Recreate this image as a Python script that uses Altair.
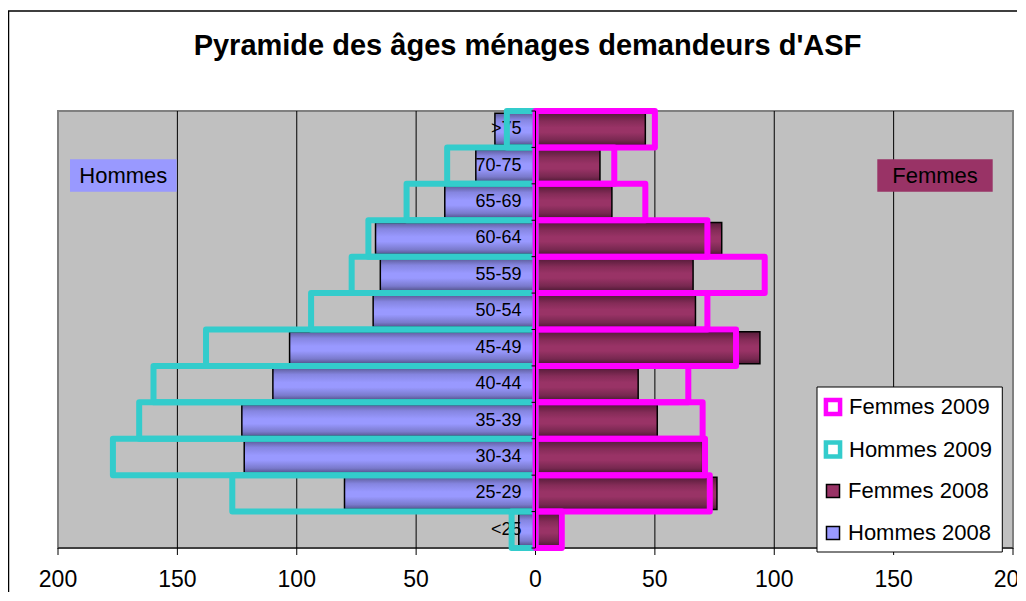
import altair as alt
import pandas as pd

# ---- data ----
ages = [">75", "70-75", "65-69", "60-64", "55-59", "50-54",
        "45-49", "40-44", "35-39", "30-34", "25-29", "<25"]
hommes_2008 = [17, 25, 38, 67, 65, 68, 103, 110, 123, 122, 80, 7]
femmes_2008 = [46, 27, 32, 78, 66, 67, 94, 43, 51, 70, 76, 10]
hommes_2009 = [12, 37, 54, 70, 77, 94, 138, 160, 166, 177, 127, 10]
femmes_2009 = [50, 33, 46, 72, 96, 72, 84, 64, 70, 71, 73, 11]

names_2009 = ["Femmes 2009", "Hommes 2009"]
colors_2009 = ["#FF00FF", "#33CCCC"]
names_2008 = ["Femmes 2008", "Hommes 2008"]
colors_2008 = ["#993366", "#9999FF"]
x_ticks = [-200, -150, -100, -50, 0, 50, 100, 150, 200]
grid_ticks = [-150, -100, -50, 50, 100, 150]
title_text = "Pyramide des âges ménages demandeurs d'ASF"
side_labels = ["Hommes", "Femmes"]

FONT = "Liberation Sans"
H = 437  # plot height in px

rows = []
for i, a in enumerate(ages):
    rows.append({"age": a, "series": "Hommes 2008", "value": -hommes_2008[i]})
    rows.append({"age": a, "series": "Femmes 2008", "value": femmes_2008[i]})
df08 = pd.DataFrame(rows)

rows = []
for i, a in enumerate(ages):
    rows.append({"age": a, "series": "Hommes 2009", "value": -hommes_2009[i]})
for i, a in enumerate(ages):
    rows.append({"age": a, "series": "Femmes 2009", "value": femmes_2009[i]})
df09 = pd.DataFrame(rows)

x_scale = alt.Scale(domain=[-200, 200], nice=False, zero=True)
y_scale = alt.Scale(paddingInner=0, paddingOuter=0)
Y = alt.Y("age:N", sort=ages, scale=y_scale, axis=None)

grad_h = {"gradient": "linear", "x1": 0, "x2": 0, "y1": 0, "y2": 1,
          "stops": [{"offset": 0, "color": "#5c5c99"},
                    {"offset": 0.2, "color": "#8585e0"},
                    {"offset": 0.45, "color": "#9999FF"},
                    {"offset": 0.6, "color": "#9999FF"},
                    {"offset": 0.85, "color": "#7a7acc"},
                    {"offset": 1, "color": "#52528a"}]}
grad_f = {"gradient": "linear", "x1": 0, "x2": 0, "y1": 0, "y2": 1,
          "stops": [{"offset": 0, "color": "#561c39"},
                    {"offset": 0.25, "color": "#852c58"},
                    {"offset": 0.45, "color": "#993366"},
                    {"offset": 0.6, "color": "#993366"},
                    {"offset": 0.85, "color": "#772850"},
                    {"offset": 1, "color": "#4f1a35"}]}

tick_df = pd.DataFrame({"v": x_ticks})

# vertical grid lines
grid = alt.Chart(pd.DataFrame({"g": grid_ticks})).mark_rule(
    color="black", strokeWidth=1
).encode(x=alt.X("g:Q", scale=x_scale, axis=None))

base08 = alt.Chart(df08)

hommes08 = base08.transform_filter("datum.series == 'Hommes 2008'").mark_bar(
    fill=grad_h, stroke="black", strokeWidth=1.5, height={"band": 0.88}
).encode(x=alt.X("value:Q", scale=x_scale, axis=None), y=Y)

femmes08 = base08.transform_filter("datum.series == 'Femmes 2008'").mark_bar(
    fill=grad_f, stroke="black", strokeWidth=1.5, height={"band": 0.88}
).encode(x=alt.X("value:Q", scale=x_scale, axis=None), y=Y)

cat_labels = alt.Chart(pd.DataFrame({"age": ages})).mark_text(
    align="right", baseline="middle", dx=-14, fontSize=18, font=FONT, color="black"
).encode(
    x=alt.X(datum=0, scale=x_scale, axis=None),
    y=Y,
    text="age:N",
)

outlines09 = alt.Chart(df09).mark_bar(
    fill="white", fillOpacity=0, strokeWidth=6, strokeJoin="round"
).encode(
    x=alt.X("value:Q", scale=x_scale, axis=None),
    y=Y,
    stroke=alt.Stroke(
        "series:N",
        scale=alt.Scale(domain=names_2009, range=colors_2009),
        legend=alt.Legend(
            orient="none", legendX=764, legendY=285, title=None,
            padding=0, labelFontSize=22, labelFont=FONT, labelColor="black",
            rowPadding=8.5, symbolType="square", symbolSize=200,
            symbolStrokeWidth=4.5, symbolFillColor="white", symbolOpacity=1,
            labelOffset=5,
        ),
    ),
)

# empty layer that only carries the legend of the 2008 series
legend08 = base08.transform_filter("false").mark_bar(
    stroke="black", strokeWidth=1.5
).encode(
    x=alt.X("value:Q", scale=x_scale, axis=None),
    y=Y,
    fill=alt.Fill(
        "series:N",
        scale=alt.Scale(domain=names_2008, range=colors_2008),
        legend=alt.Legend(
            orient="none", legendX=764, legendY=369, title=None,
            padding=0, labelFontSize=22, labelFont=FONT, labelColor="black",
            rowPadding=20, symbolType="square", symbolSize=170,
            symbolStrokeColor="black", symbolStrokeWidth=1.5, symbolOpacity=1,
            labelOffset=4,
        ),
    ),
)

# ---- axes drawn from the tick list ----
x_domain = alt.Chart(pd.DataFrame({"a": [x_ticks[0]], "b": [x_ticks[-1]]})).mark_rule(
    color="black", strokeWidth=1
).encode(
    x=alt.X("a:Q", scale=x_scale, axis=None), x2="b:Q", y=alt.value(H)
)
x_tickmarks = alt.Chart(tick_df).mark_rule(color="black", strokeWidth=1).encode(
    x=alt.X("v:Q", scale=x_scale, axis=None), y=alt.value(H), y2=alt.value(H + 7)
)
x_labels = alt.Chart(tick_df).transform_calculate(lab="abs(datum.v)").mark_text(
    fontSize=23, font=FONT, color="black", align="center", baseline="alphabetic"
).encode(
    x=alt.X("v:Q", scale=x_scale, axis=None), y=alt.value(H + 39), text="lab:N"
)
y_domain = alt.Chart(tick_df).transform_filter("datum.v == 0").mark_rule(
    color="black", strokeWidth=1
).encode(
    x=alt.X("v:Q", scale=x_scale, axis=None), y=alt.value(0), y2=alt.value(H)
)
y_ticks = alt.Chart(pd.DataFrame({"age": ages})).mark_rule(
    color="black", strokeWidth=1
).encode(
    x=alt.X(datum=0, scale=x_scale, axis=None),
    x2=alt.value(473.5),
    y=alt.Y("age:N", sort=ages, scale=y_scale, axis=None, bandPosition=0),
)
y_tick_end = alt.Chart(tick_df).transform_filter("datum.v == 0").mark_rule(
    color="black", strokeWidth=1
).encode(
    x=alt.X("v:Q", scale=x_scale, axis=None), x2=alt.value(473.5), y=alt.value(H)
)

side_df = pd.DataFrame({"label": side_labels})
legend_box = alt.Chart(side_df).transform_filter("datum.label == 'Hommes'").mark_rect(
    fill="white", stroke="black", strokeWidth=1
).encode(x=alt.value(759), x2=alt.value(944.3), y=alt.value(276), y2=alt.value(441))

hommes_box = alt.Chart(side_df).transform_filter("datum.label == 'Hommes'").mark_rect(
    fill="#9999FF"
).encode(x=alt.value(12), x2=alt.value(118.7), y=alt.value(48.3), y2=alt.value(80.7))
hommes_txt = alt.Chart(side_df).transform_filter("datum.label == 'Hommes'").mark_text(
    fontSize=22, font=FONT, color="black", align="center", baseline="middle"
).encode(x=alt.value(65.3), y=alt.value(65), text="label:N")
femmes_box = alt.Chart(side_df).transform_filter("datum.label == 'Femmes'").mark_rect(
    fill="#993366"
).encode(x=alt.value(819.3), x2=alt.value(934.7), y=alt.value(48.3), y2=alt.value(80.7))
femmes_txt = alt.Chart(side_df).transform_filter("datum.label == 'Femmes'").mark_text(
    fontSize=22, font=FONT, color="black", align="center", baseline="middle"
).encode(x=alt.value(877), y=alt.value(65), text="label:N")

title_df = pd.DataFrame({"t": [title_text]})
title = alt.Chart(title_df).mark_text(
    fontSize=29, fontWeight="bold", font=FONT, color="black",
    align="center", baseline="alphabetic"
).encode(x=alt.value(469.5), y=alt.value(-56), text="t:N")

border = alt.Chart(title_df).mark_rect(
    fill="transparent", stroke="black", strokeWidth=1.5
).encode(x=alt.value(-49.5), x2=alt.value(1100), y=alt.value(-100), y2=alt.value(600))

chart = alt.layer(
    grid, x_tickmarks, x_domain, x_labels,
    hommes08, femmes08, cat_labels, outlines09, legend08,
    y_domain, y_ticks, y_tick_end, legend_box,
    hommes_box, hommes_txt, femmes_box, femmes_txt, title, border
).properties(
    width=955, height=H,
    autosize=alt.AutoSizeParams(type="none"),
    padding={"left": 50, "top": 103, "right": 4, "bottom": 44},
    background="white",
).resolve_legend(
    fill="independent", stroke="independent"
).configure_view(
    fill="#C0C0C0", stroke="#808080", strokeWidth=2
)

chart.save("out.html", embed_options={"renderer": "svg", "actions": False})
